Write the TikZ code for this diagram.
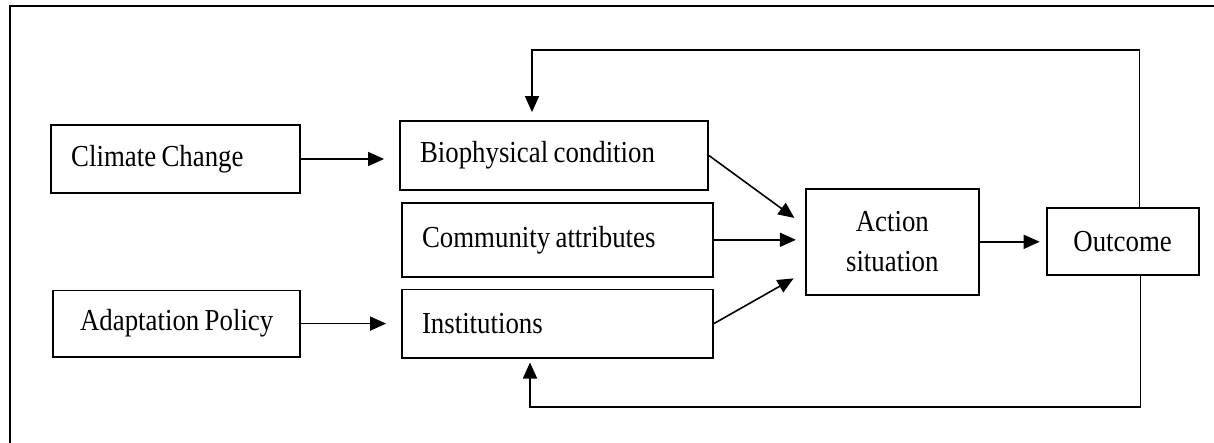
\documentclass[tikz,border=0pt]{standalone}
\usepackage{fontspec}
\setmainfont[FakeStretch=0.88,WordSpace=0.8]{Liberation Serif}
\usepackage{tikz}
\usetikzlibrary{arrows.meta,calc,positioning}

\begin{document}
\begin{tikzpicture}[x=1pt,y=-1pt,font=\fontsize{30.5}{40}\selectfont,
  box/.style={draw,line width=1.8pt,align=center,inner sep=0pt},
  lbox/.style={draw,line width=1.8pt,align=flush left,inner xsep=20pt,inner ysep=0pt},
  arr/.style={-{Triangle[length=16pt,width=14pt]},line width=1.6pt},
  frame/.style={line width=2.6pt}]
  \useasboundingbox (0,0) rectangle (1214,443);
  \draw[frame] (1214,6) -| (10,443);
  \node[lbox,text width=268pt,minimum height=69pt] (bio) at (554,155.5) {Biophysical condition};
  \node[lbox,text width=271pt,minimum height=74pt,below=11pt of bio,xshift=3.5pt] (comm) {Community attributes};
  \node[lbox,text width=271pt,minimum height=68pt,below=11pt of comm] (inst) {Institutions};
  \node[lbox,text width=209pt,minimum height=68pt,left=98pt of bio,yshift=-3.5pt] (clim) {Climate Change};
  \node[box,minimum width=247pt,minimum height=66pt,left=100pt of inst] (adapt) {Adaptation Policy};
  \node[box,minimum width=173pt,minimum height=106pt,right=91pt of comm,yshift=-2pt] (act) {Action\\situation};
  \node[box,minimum width=152pt,minimum height=67pt,right=66pt of act] (out) {Outcome};
  \coordinate (fbtop) at (0,50);
  \coordinate (fbbot) at (0,407);
  \draw[arr,shorten >=15pt] (clim.east) -- (clim.east -| bio.west);
  \draw[arr,shorten >=15pt] (adapt.east) -- (adapt.east -| inst.west);
  \draw[arr,shorten >=13pt] (bio.east) -- ($(act.north west)!0.35!(act.south west)$);
  \draw[arr,shorten >=9pt] (comm.east) -- (comm.east -| act.west);
  \draw[arr,shorten >=13pt] (inst.east) -- ($(act.north west)!0.78!(act.south west)$);
  \draw[arr,shorten >=6pt] (act.east) -- (act.east -| out.west);
  \draw[arr,shorten >=8pt] ([xshift=17pt]out.north) |- ([xshift=-22pt]bio.north |- fbtop) -- ([xshift=-22pt]bio.north);
  \draw[arr,shorten >=4pt] ([xshift=18pt]out.south) |- ([xshift=-27.5pt]inst.south |- fbbot) -- ([xshift=-27.5pt]inst.south);
\end{tikzpicture}
\end{document}
